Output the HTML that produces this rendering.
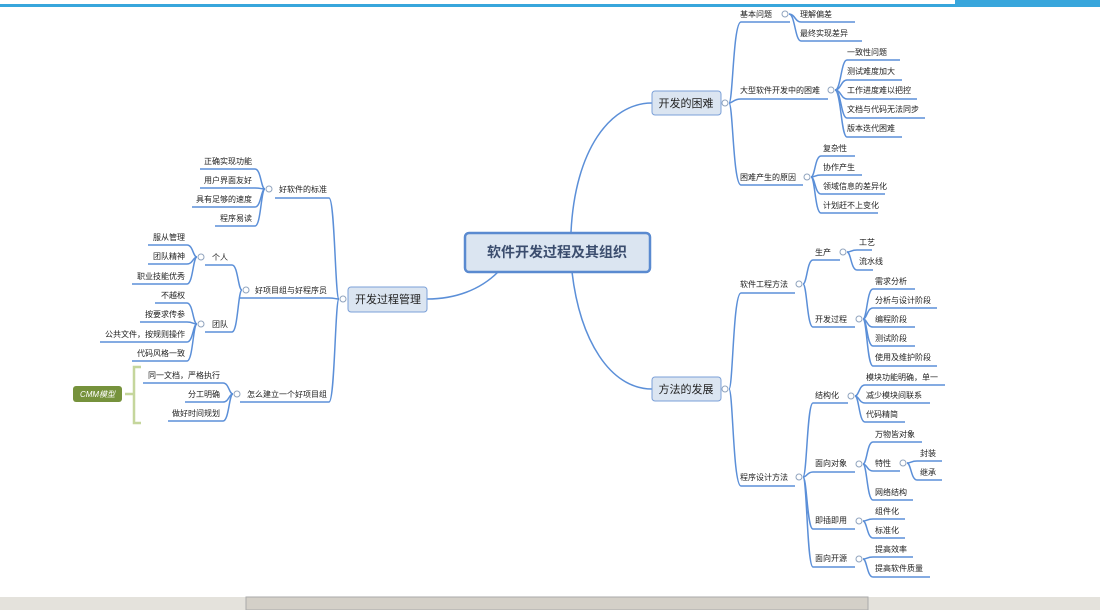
<!DOCTYPE html>
<html><head><meta charset="utf-8"><style>
body{margin:0;width:1100px;height:610px;overflow:hidden;background:#fff}
svg{display:block}
text{font-family:"Liberation Sans","Noto Sans CJK SC",sans-serif;font-size:8px;fill:#222}
.l{stroke:#5b8fd8;stroke-width:1.5;fill:none}
.c{fill:#fff;stroke:#8fa3bd;stroke-width:1}
</style></head><body>
<svg width="1100" height="610" viewBox="0 0 1100 610">
<rect x="0" y="4" width="955" height="3" fill="#38a6dc"/>
<rect x="955" y="0" width="145" height="7" fill="#38a6dc"/>
<rect x="0" y="597" width="1100" height="13" fill="#e4e2dc"/>
<rect x="246" y="597" width="622" height="13" fill="#d4d0c8" stroke="#aaa" stroke-width="1"/>

<path class="l" d="M571,232 C575,150 610,103 652,103"/>
<path class="l" d="M572,272 C580,340 610,389 652,389"/>
<path class="l" d="M498,272 C480,290 455,299 427,299"/>

<rect x="465" y="233" width="185" height="39" rx="4" fill="#dbe5f1" stroke="#5a8ad0" stroke-width="2.5"/>
<text x="557" y="257" text-anchor="middle" style="font-size:14px;font-weight:bold;fill:#3b4d6e">软件开发过程及其组织</text>

<rect x="348" y="287" width="79" height="25" rx="3" fill="#dbe5f1" stroke="#7ba0d8"/>
<text x="388" y="303" text-anchor="middle" style="font-size:11px">开发过程管理</text>
<rect x="652" y="377" width="69" height="24" rx="3" fill="#dbe5f1" stroke="#7ba0d8"/>
<text x="686" y="393" text-anchor="middle" style="font-size:11px">方法的发展</text>
<rect x="652" y="91" width="69" height="24" rx="3" fill="#dbe5f1" stroke="#7ba0d8"/>
<text x="686" y="107" text-anchor="middle" style="font-size:11px">开发的困难</text>

<path class="l" d="M729,103 C733,103 733,22 741,22 L790,22"/>
<path class="l" d="M729,103 C733,103 733,99 741,99 L828,99"/>
<path class="l" d="M729,103 C733,103 733,185 741,185 L803,185"/>
<text x="740" y="17">基本问题</text>
<text x="740" y="93">大型软件开发中的困难</text>
<text x="740" y="180">困难产生的原因</text>
<path class="l" d="M789,14 C795,14 795,22 801,22 L855,22"/>
<path class="l" d="M789,14 C795,14 795,41 801,41 L862,41"/>
<text x="800" y="17">理解偏差</text>
<text x="800" y="36">最终实现差异</text>
<path class="l" d="M835,90 C841,90 841,60 847,60 L900,60"/>
<path class="l" d="M835,90 C841,90 841,80 847,80 L902,80"/>
<path class="l" d="M835,90 C841,90 841,99 847,99 L917,99"/>
<path class="l" d="M835,90 C841,90 841,118 847,118 L925,118"/>
<path class="l" d="M835,90 C841,90 841,137 847,137 L902,137"/>
<text x="847" y="55">一致性问题</text>
<text x="847" y="74">测试难度加大</text>
<text x="847" y="93">工作进度难以把控</text>
<text x="847" y="112">文档与代码无法同步</text>
<text x="847" y="131">版本迭代困难</text>
<path class="l" d="M811,177 C815,177 815,156 821,156 L855,156"/>
<path class="l" d="M811,177 C815,177 815,175 821,175 L862,175"/>
<path class="l" d="M811,177 C815,177 815,194 821,194 L885,194"/>
<path class="l" d="M811,177 C815,177 815,213 821,213 L878,213"/>
<text x="823" y="151">复杂性</text>
<text x="823" y="170">协作产生</text>
<text x="823" y="189">领域信息的差异化</text>
<text x="823" y="208">计划赶不上变化</text>

<path class="l" d="M729,389 C733,389 733,293 741,293 L795,293"/>
<path class="l" d="M729,389 C733,389 733,486 741,486 L795,486"/>
<text x="740" y="287">软件工程方法</text>
<text x="740" y="480">程序设计方法</text>
<path class="l" d="M803,284 C807,284 807,260 813,260 L840,260"/>
<path class="l" d="M803,284 C807,284 807,327 813,327 L855,327"/>
<text x="815" y="255">生产</text>
<text x="815" y="322">开发过程</text>
<path class="l" d="M847,252 C851,252 851,250 857,250 L872,250"/>
<path class="l" d="M847,252 C851,252 851,270 857,270 L873,270"/>
<text x="859" y="245">工艺</text>
<text x="859" y="264">流水线</text>
<path class="l" d="M863,319 C867,319 867,289 873,289 L915,289"/>
<path class="l" d="M863,319 C867,319 867,308 873,308 L937,308"/>
<path class="l" d="M863,319 C867,319 867,327 873,327 L915,327"/>
<path class="l" d="M863,319 C867,319 867,346 873,346 L915,346"/>
<path class="l" d="M863,319 C867,319 867,366 873,366 L937,366"/>
<text x="875" y="284">需求分析</text>
<text x="875" y="303">分析与设计阶段</text>
<text x="875" y="322">编程阶段</text>
<text x="875" y="341">测试阶段</text>
<text x="875" y="360">使用及维护阶段</text>
<path class="l" d="M803,477 C807,477 807,403 813,403 L848,403"/>
<path class="l" d="M803,477 C807,477 807,472 813,472 L855,472"/>
<path class="l" d="M803,477 C807,477 807,529 813,529 L855,529"/>
<path class="l" d="M803,477 C807,477 807,567 813,567 L855,567"/>
<text x="815" y="398">结构化</text>
<text x="815" y="466">面向对象</text>
<text x="815" y="523">即插即用</text>
<text x="815" y="561">面向开源</text>
<path class="l" d="M855,396 C859,396 859,385 865,385 L945,385"/>
<path class="l" d="M855,396 C859,396 859,403 865,403 L930,403"/>
<path class="l" d="M855,396 C859,396 859,422 865,422 L905,422"/>
<text x="866" y="380">模块功能明确，单一</text>
<text x="866" y="398">减少模块间联系</text>
<text x="866" y="417">代码精简</text>
<path class="l" d="M863,464 C867,464 867,442 873,442 L922,442"/>
<path class="l" d="M863,464 C867,464 867,471 873,471 L900,471"/>
<path class="l" d="M863,464 C867,464 867,500 873,500 L913,500"/>
<text x="875" y="437">万物皆对象</text>
<text x="875" y="466">特性</text>
<text x="875" y="495">网络结构</text>
<path class="l" d="M907,463 C911,463 911,461 917,461 L942,461"/>
<path class="l" d="M907,463 C911,463 911,480 917,480 L942,480"/>
<text x="920" y="456">封装</text>
<text x="920" y="475">继承</text>
<path class="l" d="M863,521 C867,521 867,519 873,519 L905,519"/>
<path class="l" d="M863,521 C867,521 867,538 873,538 L905,538"/>
<text x="875" y="514">组件化</text>
<text x="875" y="533">标准化</text>
<path class="l" d="M863,559 C867,559 867,557 873,557 L913,557"/>
<path class="l" d="M863,559 C867,559 867,577 873,577 L930,577"/>
<text x="875" y="552">提高效率</text>
<text x="875" y="571">提高软件质量</text>

<path class="l" d="M339,299 C335,299 335,198 329,198 L275,198"/>
<path class="l" d="M339,299 C335,299 335,298 329,298 L240,298"/>
<path class="l" d="M339,299 C335,299 335,402 329,402 L240,402"/>
<text x="327" y="192" text-anchor="end">好软件的标准</text>
<text x="327" y="293" text-anchor="end">好项目组与好程序员</text>
<text x="327" y="397" text-anchor="end">怎么建立一个好项目组</text>
<path class="l" d="M265,189 C261,189 261,169 255,169 L200,169"/>
<path class="l" d="M265,189 C261,189 261,188 255,188 L200,188"/>
<path class="l" d="M265,189 C261,189 261,207 255,207 L192,207"/>
<path class="l" d="M265,189 C261,189 261,226 255,226 L215,226"/>
<g text-anchor="end">
<text x="252" y="164">正确实现功能</text>
<text x="252" y="183">用户界面友好</text>
<text x="252" y="202">具有足够的速度</text>
<text x="252" y="221">程序易读</text>
</g>
<path class="l" d="M242,290 C238,290 238,265 232,265 L205,265"/>
<path class="l" d="M242,290 C238,290 238,332 232,332 L205,332"/>
<text x="228" y="260" text-anchor="end">个人</text>
<text x="228" y="327" text-anchor="end">团队</text>
<path class="l" d="M197,257 C193,257 193,245 187,245 L148,245"/>
<path class="l" d="M197,257 C193,257 193,264 187,264 L148,264"/>
<path class="l" d="M197,257 C193,257 193,284 187,284 L132,284"/>
<g text-anchor="end">
<text x="185" y="240">服从管理</text>
<text x="185" y="259">团队精神</text>
<text x="185" y="279">职业技能优秀</text>
</g>
<path class="l" d="M197,324 C193,324 193,303 187,303 L155,303"/>
<path class="l" d="M197,324 C193,324 193,322 187,322 L140,322"/>
<path class="l" d="M197,324 C193,324 193,342 187,342 L100,342"/>
<path class="l" d="M197,324 C193,324 193,361 187,361 L132,361"/>
<g text-anchor="end">
<text x="185" y="298">不越权</text>
<text x="185" y="317">按要求传参</text>
<text x="185" y="337">公共文件，按规则操作</text>
<text x="185" y="356">代码风格一致</text>
</g>
<path class="l" d="M233,394 C229,394 229,383 223,383 L143,383"/>
<path class="l" d="M233,394 C229,394 229,402 223,402 L185,402"/>
<path class="l" d="M233,394 C229,394 229,421 223,421 L168,421"/>
<g text-anchor="end">
<text x="220" y="378">同一文档，严格执行</text>
<text x="220" y="397">分工明确</text>
<text x="220" y="416">做好时间规划</text>
</g>
<path d="M141,367 L134,367 L134,423 L141,423 M134,394 L125,394" stroke="#c5d69c" stroke-width="2.5" fill="none"/>
<rect x="73" y="386" width="49" height="16" rx="3" fill="#76923c"/>
<text x="97.5" y="397" text-anchor="middle" style="fill:#fff;font-style:italic">CMM模型</text>

<g class="c">
<circle cx="725" cy="103" r="3"/><circle cx="725" cy="389" r="3"/><circle cx="343" cy="299" r="3"/>
<circle cx="785" cy="14" r="3"/><circle cx="831" cy="90" r="3"/><circle cx="807" cy="177" r="3"/>
<circle cx="799" cy="284" r="3"/><circle cx="799" cy="477" r="3"/>
<circle cx="843" cy="252" r="3"/><circle cx="859" cy="319" r="3"/>
<circle cx="851" cy="396" r="3"/><circle cx="859" cy="464" r="3"/><circle cx="903" cy="463" r="3"/>
<circle cx="859" cy="521" r="3"/><circle cx="859" cy="559" r="3"/>
<circle cx="269" cy="189" r="3"/><circle cx="246" cy="290" r="3"/><circle cx="237" cy="394" r="3"/>
<circle cx="201" cy="257" r="3"/><circle cx="201" cy="324" r="3"/>
</g>
</svg>
</body></html>
